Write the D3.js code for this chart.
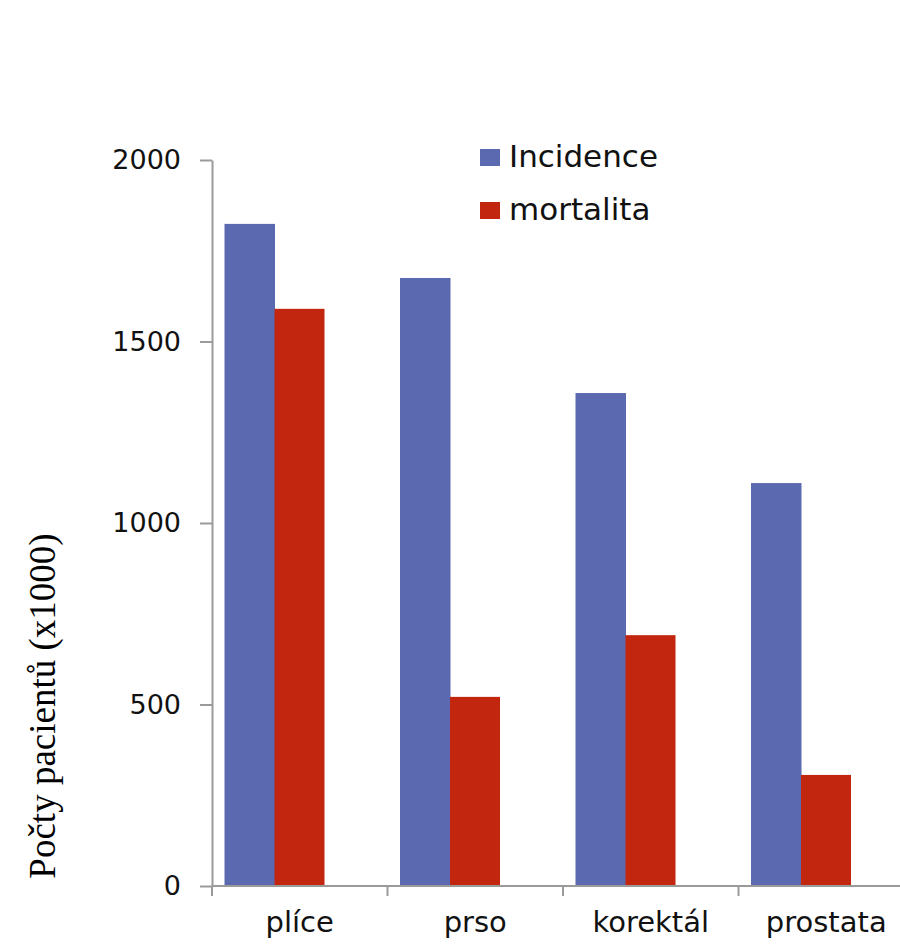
<!DOCTYPE html>
<html><head><meta charset="utf-8">
<script src="https://cdn.jsdelivr.net/npm/d3@7"></script>
<style>body{margin:0;background:#fff}svg{display:block}</style>
</head><body>
<svg id="c" width="900" height="945"></svg>
<script>
const categories = ["plíce", "prso", "korektál", "prostata"];
const seriesNames = ["Incidence", "mortalita"];
const incidence = [1824, 1675, 1358, 1110];
const mortalita = [1590, 521, 691, 306];
const yTicks = [0, 500, 1000, 1500, 2000];
const colors = ["#5a69b0", "#c3260f"];
const yTitle = "Počty pacientů (x1000)";

const svg = d3.select("#c");
const x0 = d3.scaleBand().domain(categories).range([212, 914]).padding(0);
const x1 = d3.scaleBand().domain(seriesNames).range([12.5, 112.5]).padding(0);
const y = d3.scaleLinear().domain([0, 2000]).range([886, 160]);
const values = [incidence, mortalita];
const axisColor = "#9a9a9a";
const font = "'DejaVu Sans', Verdana, sans-serif";

// bars
categories.forEach((c, i) => {
  seriesNames.forEach((s, j) => {
    svg.append("rect")
      .attr("x", x0(c) + x1(s))
      .attr("y", y(values[j][i]))
      .attr("width", x1.bandwidth() + (j === 0 ? 0.5 : 0))
      .attr("height", y(0) - y(values[j][i]))
      .attr("fill", colors[j]);
  });
});

// y axis
const yAxis = d3.axisLeft(y).tickValues(yTicks).tickFormat(d3.format("d"))
  .tickSize(12).tickPadding(19).tickSizeOuter(0);
const gy = svg.append("g").attr("transform", "translate(212,0)").call(yAxis);
gy.select(".domain").attr("stroke", axisColor).attr("stroke-width", 2);
gy.selectAll(".tick line").attr("stroke", axisColor).attr("stroke-width", 2);
gy.selectAll(".tick text").attr("font-family", font).attr("font-size", 27).attr("fill", "#111").attr("dy", "0.33em");

// x axis baseline & ticks at band boundaries
svg.append("line").attr("x1", 212).attr("x2", 900).attr("y1", y(0)).attr("y2", y(0))
  .attr("stroke", axisColor).attr("stroke-width", 2);
categories.forEach(c => {
  svg.append("line").attr("x1", x0(c)).attr("x2", x0(c)).attr("y1", y(0)).attr("y2", y(0) + 10)
    .attr("stroke", axisColor).attr("stroke-width", 2);
  svg.append("text").attr("x", x0(c) + x0.bandwidth() / 2).attr("y", 932)
    .attr("text-anchor", "middle").attr("font-family", font).attr("font-size", 29)
    .attr("fill", "#111").text(c);
});

// legend
const legY = [149, 202];
seriesNames.forEach((s, j) => {
  svg.append("rect").attr("x", 480).attr("y", legY[j]).attr("width", 20).attr("height", 17).attr("fill", colors[j]);
  svg.append("text").attr("x", 509).attr("y", legY[j] + 18)
    .attr("font-family", font).attr("font-size", 31).attr("fill", "#111").text(s);
});

// y title
svg.append("text").attr("transform", "translate(55,706) rotate(-90)")
  .attr("text-anchor", "middle").attr("font-family", "'Liberation Serif', 'Times New Roman', serif")
  .attr("font-size", 37).attr("fill", "#000").text(yTitle);
</script>
</body></html>
